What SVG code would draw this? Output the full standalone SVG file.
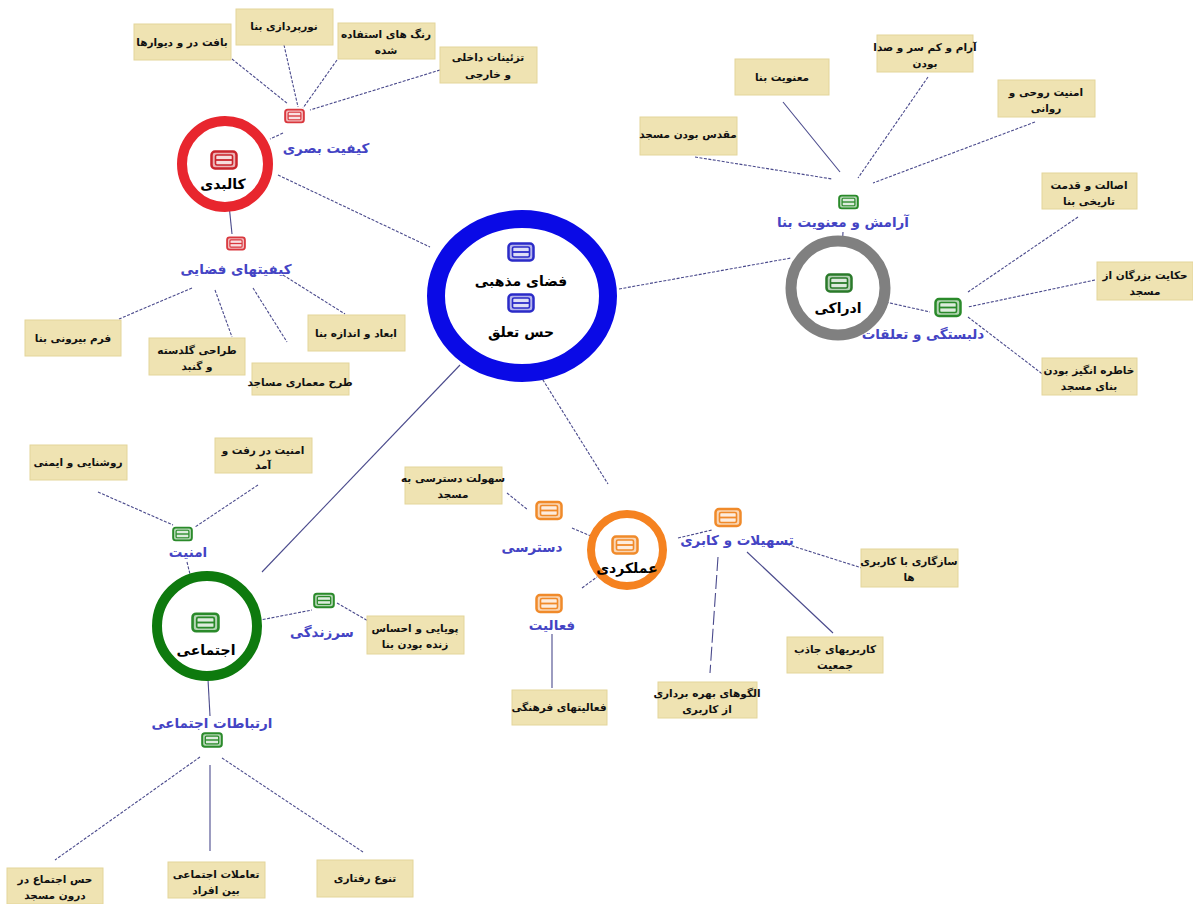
<svg xmlns="http://www.w3.org/2000/svg" xmlns:xlink="http://www.w3.org/1999/xlink" width="1193" height="904" viewBox="0 0 1193 904">
<style>
text{font-family:"DejaVu Sans","Noto Sans",sans-serif;font-weight:bold;text-anchor:middle;dominant-baseline:central}
.box rect{fill:#EFE3B2;stroke:#E3D59A;stroke-width:1}
.box text{font-size:10.5px;fill:#111}
.lbl{font-size:13.5px;fill:#4444C4}
.main{font-size:14px;fill:#000}
.c line{stroke:#4A4A8C;stroke-width:1.1;stroke-dasharray:3 1.5}
.c line.s{stroke-dasharray:none}
.ring{fill:#fff}
</style>
<defs>
<symbol id="ico" viewBox="0 0 28 20">
<rect x="1.5" y="1.5" width="25" height="17" rx="3.5" fill="currentColor" fill-opacity="0.35" stroke="currentColor" stroke-width="2.5"/>
<rect x="5.5" y="5" width="17" height="10" rx="1.5" fill="#fff" fill-opacity="0.55" stroke="currentColor" stroke-width="1.6"/>
<line x1="5.5" y1="10" x2="22.5" y2="10" stroke="currentColor" stroke-width="1.8"/>
</symbol>
</defs>
<rect width="1193" height="904" fill="#fff"/>

<g id="connectors" class="c">
<!-- kalbadi cluster -->
<line x1="232" y1="59" x2="288" y2="104"/>
<line x1="284" y1="45" x2="298" y2="107"/>
<line x1="337" y1="60" x2="303" y2="108"/>
<line x1="440" y1="70" x2="310" y2="110"/>
<line x1="283" y1="133" x2="270" y2="139"/>
<line x1="278" y1="175" x2="430" y2="247"/>
<line x1="228" y1="195" x2="232" y2="234" class="s"/>
<line x1="192" y1="288" x2="119" y2="319"/>
<line x1="215" y1="290" x2="232" y2="337"/>
<line x1="253" y1="288" x2="287" y2="342"/>
<line x1="283" y1="275" x2="345" y2="314"/>
<!-- center -->
<line x1="619" y1="289" x2="791" y2="258"/>
<line x1="538" y1="372" x2="608" y2="484"/>
<line x1="460" y1="365" x2="262" y2="572" class="s"/>
<!-- edraki -->
<line x1="695" y1="157" x2="832" y2="179"/>
<line x1="783" y1="102" x2="840" y2="172" class="s"/>
<line x1="928" y1="77" x2="858" y2="178"/>
<line x1="1035" y1="122" x2="873" y2="183"/>
<line x1="843" y1="232" x2="841" y2="268" class="s"/>
<line x1="868" y1="298" x2="930" y2="312"/>
<line x1="1078" y1="217" x2="968" y2="292"/>
<line x1="1095" y1="280" x2="968" y2="307"/>
<line x1="968" y1="317" x2="1045" y2="376"/>
<!-- amalkardi -->
<line x1="507" y1="493" x2="528" y2="510"/>
<line x1="572" y1="528" x2="605" y2="542"/>
<line x1="678" y1="538" x2="712" y2="530"/>
<line x1="783" y1="543" x2="862" y2="568"/>
<line x1="747" y1="552" x2="833" y2="633" class="s"/>
<line x1="718" y1="557" x2="710" y2="673" style="stroke-dasharray:14 4"/>
<line x1="582" y1="588" x2="597" y2="577"/>
<line x1="552" y1="634" x2="552" y2="688" class="s"/>
<!-- ejtemaei -->
<line x1="98" y1="492" x2="173" y2="525"/>
<line x1="258" y1="485" x2="195" y2="527"/>
<line x1="187" y1="562" x2="198" y2="607"/>
<line x1="245" y1="623" x2="312" y2="610"/>
<line x1="337" y1="603" x2="370" y2="622"/>
<line x1="207" y1="661" x2="210" y2="716" class="s"/>
<line x1="200" y1="757" x2="55" y2="860"/>
<line x1="210" y1="765" x2="210" y2="851" class="s"/>
<line x1="222" y1="758" x2="363" y2="852"/>
</g>

<!-- main circles -->
<g id="n-center">
<ellipse class="ring" cx="522" cy="296" rx="86" ry="77" stroke="#0A0AE6" stroke-width="18"/>
<use href="#ico" x="507" y="242" width="28" height="20" color="#2B2BC8"/>
<text class="main" x="521" y="281">فضای مذهبی</text>
<use href="#ico" x="507" y="293" width="28" height="20" color="#2B2BC8"/>
<text class="main" x="521" y="332">حس تعلق</text>
</g>
<g id="n-kalbadi">
<circle class="ring" cx="225" cy="164" r="43" stroke="#E8262E" stroke-width="10"/>
<use href="#ico" x="210" y="150" width="28" height="20" color="#C9252C"/>
<text class="main" x="223" y="184">کالبدی</text>
</g>
<g id="n-edraki">
<circle class="ring" cx="838" cy="288" r="47" stroke="#808080" stroke-width="11"/>
<use href="#ico" x="825" y="273" width="28" height="20" color="#2A7A2A"/>
<text class="main" x="838" y="308">ادراکی</text>
</g>
<g id="n-amalkardi">
<circle class="ring" cx="627" cy="550" r="36" stroke="#F58220" stroke-width="8"/>
<use href="#ico" x="611" y="535" width="28" height="20" color="#F08A2A"/>
<text class="main" x="627" y="568">عملکردی</text>
</g>
<g id="n-ejtemaei">
<circle class="ring" cx="207" cy="626" r="50" stroke="#0E7A0E" stroke-width="10"/>
<use href="#ico" x="191" y="612" width="29" height="21" color="#2A8A2A"/>
<text class="main" x="206" y="650">اجتماعی</text>
</g>

<!-- sub nodes -->
<g id="n-basari"><use href="#ico" x="284" y="108" width="21" height="16" color="#D9383E"/><text class="lbl" x="326" y="148">کیفیت بصری</text></g>
<g id="n-fazayi"><use href="#ico" x="226" y="236" width="20" height="15" color="#D9383E"/><text class="lbl" x="236" y="269">کیفیتهای فضایی</text></g>
<g id="n-aramesh"><use href="#ico" x="838" y="194" width="21" height="16" color="#2A8A2A"/><text class="lbl" x="843" y="222">آرامش و معنویت بنا</text></g>
<g id="n-delbastegi"><use href="#ico" x="934" y="297" width="28" height="21" color="#2A8A2A"/><text class="lbl" x="923" y="334">دلبستگی و تعلقات</text></g>
<g id="n-dastresi"><use href="#ico" x="535" y="500" width="28" height="21" color="#F08A2A"/><text class="lbl" x="532" y="547">دسترسی</text></g>
<g id="n-tasheelat"><use href="#ico" x="714" y="507" width="28" height="21" color="#F08A2A"/><text class="lbl" x="737" y="540">تسهیلات و کابری</text></g>
<g id="n-faaliat"><use href="#ico" x="535" y="593" width="28" height="21" color="#F08A2A"/><text class="lbl" x="552" y="625">فعالیت</text></g>
<g id="n-amniat"><use href="#ico" x="172" y="526" width="21" height="16" color="#2A8A2A"/><text class="lbl" x="188" y="552">امنیت</text></g>
<g id="n-sarzendegi"><use href="#ico" x="313" y="592" width="22" height="17" color="#2A8A2A"/><text class="lbl" x="322" y="632">سرزندگی</text></g>
<g id="n-ertebatat"><use href="#ico" x="201" y="732" width="22" height="16" color="#2A8A2A"/><text class="lbl" x="212" y="723">ارتباطات اجتماعی</text></g>

<!-- leaf boxes -->
<g id="b1" class="box"><rect x="134" y="24" width="97" height="36"/><text x="182" y="42">بافت در و دیوارها</text></g>
<g id="b2" class="box"><rect x="236" y="9" width="97" height="36"/><text x="284" y="26">نورپردازی بنا</text></g>
<g id="b3" class="box"><rect x="338" y="23" width="97" height="36"/><text x="386" y="34">رنگ های استفاده</text><text x="386" y="50">شده</text></g>
<g id="b4" class="box"><rect x="440" y="47" width="97" height="36"/><text x="488" y="57">تزئینات داخلی</text><text x="488" y="74">و خارجی</text></g>
<g id="b5" class="box"><rect x="25" y="320" width="96" height="36"/><text x="73" y="338">فرم بیرونی بنا</text></g>
<g id="b6" class="box"><rect x="149" y="338" width="96" height="37"/><text x="197" y="350">طراحی گلدسته</text><text x="197" y="366">و گنبد</text></g>
<g id="b7" class="box"><rect x="252" y="363" width="97" height="32"/><text x="300" y="382">طرح معماری مساجد</text></g>
<g id="b8" class="box"><rect x="308" y="315" width="97" height="36"/><text x="356" y="333">ابعاد و اندازه بنا</text></g>
<g id="b9" class="box"><rect x="640" y="117" width="97" height="38"/><text x="688" y="134">مقدس بودن مسجد</text></g>
<g id="b10" class="box"><rect x="735" y="59" width="94" height="36"/><text x="782" y="77">معنویت بنا</text></g>
<g id="b11" class="box"><rect x="877" y="35" width="96" height="37"/><text x="925" y="47">آرام و کم سر و صدا</text><text x="925" y="63">بودن</text></g>
<g id="b12" class="box"><rect x="998" y="80" width="97" height="37"/><text x="1046" y="92">امنیت روحی و</text><text x="1046" y="108">روانی</text></g>
<g id="b13" class="box"><rect x="1042" y="173" width="95" height="36"/><text x="1089" y="185">اصالت و قدمت</text><text x="1089" y="201">تاریخی بنا</text></g>
<g id="b14" class="box"><rect x="1097" y="262" width="96" height="38"/><text x="1145" y="275">حکایت بزرگان از</text><text x="1145" y="291">مسجد</text></g>
<g id="b15" class="box"><rect x="1042" y="358" width="95" height="37"/><text x="1089" y="370">خاطره انگیز بودن</text><text x="1089" y="386">بنای مسجد</text></g>
<g id="b16" class="box"><rect x="405" y="467" width="97" height="37"/><text x="453" y="478">سهولت دسترسی به</text><text x="453" y="494">مسجد</text></g>
<g id="b17" class="box"><rect x="861" y="549" width="97" height="38"/><text x="909" y="561">سازگاری با کاربری</text><text x="909" y="577">ها</text></g>
<g id="b18" class="box"><rect x="787" y="637" width="96" height="36"/><text x="835" y="649">کاربریهای جاذب</text><text x="835" y="665">جمعیت</text></g>
<g id="b19" class="box"><rect x="658" y="682" width="99" height="36"/><text x="707" y="693">الگوهای بهره برداری</text><text x="707" y="709">از کاربری</text></g>
<g id="b20" class="box"><rect x="512" y="690" width="95" height="35"/><text x="559" y="707">فعالیتهای فرهنگی</text></g>
<g id="b21" class="box"><rect x="367" y="616" width="97" height="38"/><text x="415" y="628">پویایی و احساس</text><text x="415" y="644">زنده بودن بنا</text></g>
<g id="b22" class="box"><rect x="30" y="445" width="97" height="35"/><text x="78" y="462">روشنایی و ایمنی</text></g>
<g id="b23" class="box"><rect x="215" y="438" width="97" height="35"/><text x="263" y="450">امنیت در رفت و</text><text x="263" y="465">آمد</text></g>
<g id="b24" class="box"><rect x="7" y="868" width="96" height="36"/><text x="55" y="879">حس اجتماع در</text><text x="55" y="895">درون مسجد</text></g>
<g id="b25" class="box"><rect x="168" y="862" width="97" height="36"/><text x="216" y="874">تعاملات اجتماعی</text><text x="216" y="890">بین افراد</text></g>
<g id="b26" class="box"><rect x="317" y="860" width="96" height="37"/><text x="365" y="878">تنوع رفتاری</text></g>
</svg>
